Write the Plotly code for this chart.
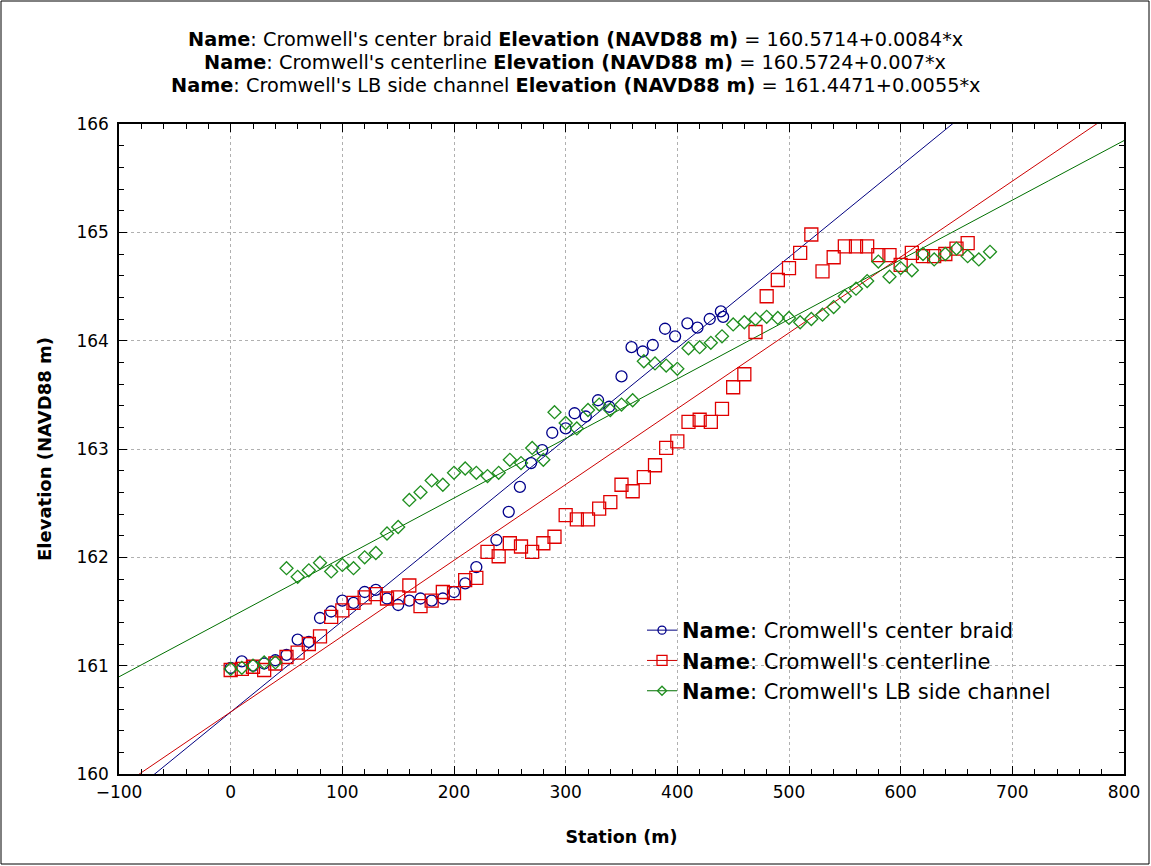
import plotly.graph_objects as go
import numpy as np

# ---------------- data ----------------
names = ["Cromwell's center braid", "Cromwell's centerline", "Cromwell's LB side channel"]
intercepts = [160.5714, 160.5724, 161.4471]
slopes = [0.0084, 0.007, 0.0055]
coef_labels = ["160.5714+0.0084*x", "160.5724+0.007*x", "161.4471+0.0055*x"]

braid_x = [0, 10, 20, 30, 40, 50, 60, 70, 80, 90, 100, 110, 120, 130, 140, 150, 160, 170, 180, 190,
           200, 210, 220, 238, 249, 259, 269, 279, 288, 300, 308, 318, 329, 339, 350, 359, 369, 378,
           389, 398, 409, 418, 429, 439, 441]
braid_y = [160.98, 161.04, 161.0, 161.02, 161.05, 161.1, 161.24, 161.22, 161.44, 161.5, 161.6, 161.58,
           161.68, 161.7, 161.62, 161.56, 161.6, 161.62, 161.6, 161.62, 161.68, 161.76, 161.91, 162.16,
           162.42, 162.65, 162.87, 162.99, 163.15, 163.19, 163.33, 163.3, 163.45, 163.39, 163.67, 163.94,
           163.9, 163.96, 164.11, 164.04, 164.16, 164.12, 164.2, 164.27, 164.22]

center_x = list(range(0, 670, 10))
center_y = [160.96, 160.97, 160.99, 160.96, 161.02, 161.08, 161.12, 161.2, 161.27, 161.45, 161.51, 161.58,
            161.63, 161.66, 161.62, 161.63, 161.74, 161.55, 161.6, 161.68, 161.67, 161.79, 161.81, 162.05,
            162.01, 162.13, 162.1, 162.05, 162.13, 162.19, 162.39, 162.35, 162.35, 162.45, 162.51, 162.67,
            162.61, 162.74, 162.85, 163.01, 163.07, 163.25, 163.27, 163.25, 163.37, 163.57, 163.69, 164.08,
            164.41, 164.56, 164.67, 164.81, 164.98, 164.64, 164.77, 164.87, 164.87, 164.87, 164.79, 164.79,
            164.7, 164.81, 164.78, 164.78, 164.8, 164.85, 164.9]

lb_x = list(range(0, 690, 10))
lb_y = [160.97, 160.98, 161.0, 161.03, 161.03, 161.9, 161.82, 161.88, 161.95, 161.87, 161.93, 161.9,
        162.0, 162.04, 162.22, 162.28, 162.53, 162.6, 162.71, 162.67, 162.78, 162.82, 162.78, 162.75,
        162.78, 162.9, 162.87, 163.01, 162.9, 163.34, 163.24, 163.19, 163.36, 163.41, 163.36, 163.41,
        163.45, 163.81, 163.79, 163.77, 163.74, 163.93, 163.94, 163.98, 164.04, 164.15, 164.17, 164.2,
        164.22, 164.21, 164.21, 164.17, 164.2, 164.24, 164.31, 164.41, 164.48, 164.55, 164.73, 164.59,
        164.67, 164.65, 164.8, 164.75, 164.8, 164.85, 164.78, 164.75, 164.82]

x_range = [-100, 800]
y_range = [160, 166]

# ---------------- styles ----------------
marker_colors = ["#00008b", "#e00000", "#1f8f1f"]
line_colors = ["#000080", "#cc0000", "#007000"]
symbols = ["circle-open", "square-open", "diamond-open"]
sizes = [11, 13, 10]

series_x = [braid_x, center_x, lb_x]
series_y = [braid_y, center_y, lb_y]

fig = go.Figure()
FONT = "DejaVu Sans, Verdana, sans-serif"

for i in range(3):
    lx = np.linspace(x_range[0], x_range[1], 400)
    ly = intercepts[i] + slopes[i] * lx
    fig.add_trace(go.Scatter(x=lx, y=ly, mode="lines", line=dict(color=line_colors[i], width=1),
                             showlegend=False, hoverinfo="skip"))
for i in range(3):
    fig.add_trace(go.Scatter(x=series_x[i], y=series_y[i], mode="markers",
                             marker=dict(symbol=symbols[i], size=sizes[i], color=marker_colors[i],
                                         line=dict(width=1.3, color=marker_colors[i])),
                             showlegend=False, name=names[i]))
for i in range(3):
    fig.add_trace(go.Scatter(x=[None], y=[None], mode="lines+markers",
                             line=dict(color=line_colors[i], width=1),
                             marker=dict(symbol=symbols[i], size=sizes[i] - 3, color=marker_colors[i],
                                         line=dict(width=1.3, color=marker_colors[i])),
                             name="<b>Name</b>: " + names[i]))

title_lines = ["<b>Name</b>: %s <b>Elevation (NAVD88 m)</b> = %s" % (names[i], coef_labels[i]) for i in range(3)]

W, H = 1151, 866
L, R, T, B = 119, 27, 124, 92
pw, ph = W - L - R, H - T - B

def px_x(p):
    return (p - L) / pw

def px_y(p):
    return (T + ph - p) / ph

title_y_px = [40, 63, 86]
annotations = [dict(text=title_lines[i], xref="paper", yref="paper", x=px_x(575), y=px_y(title_y_px[i]),
                    xanchor="center", yanchor="middle", showarrow=False,
                    font=dict(family=FONT, size=19.3, color="black")) for i in range(3)]

fig.update_layout(
    width=W, height=H,
    margin=dict(l=L, r=R, t=T, b=B, pad=0),
    paper_bgcolor="white", plot_bgcolor="white",
    font=dict(family=FONT, color="black", size=17),
    annotations=annotations,
    legend=dict(x=px_x(642), y=px_y(610), xanchor="left", yanchor="top",
                bgcolor="rgba(255,255,255,0)", font=dict(family=FONT, size=21, color="black"),
                tracegroupgap=0, itemwidth=30),
    xaxis=dict(range=x_range, dtick=100, tick0=0, showline=True, linecolor="black", linewidth=1.5,
               mirror="ticks", ticks="inside", ticklen=8, tickcolor="black", tickwidth=1.2,
               showgrid=True, gridcolor="#b0b0b0", griddash="dot", gridwidth=1, zeroline=False,
               minor=dict(dtick=20, ticks="inside", ticklen=5, tickcolor="black", showgrid=False),
               tickfont=dict(family=FONT, size=17), ticklabelstandoff=2,
               title=dict(text="<b>Station (m)</b>", font=dict(family=FONT, size=17.5), standoff=30)),
    yaxis=dict(range=y_range, dtick=1, showline=True, linecolor="black", linewidth=1.5,
               mirror="ticks", ticks="inside", ticklen=8, tickcolor="black", tickwidth=1.2,
               showgrid=True, gridcolor="#b0b0b0", griddash="dot", gridwidth=1, zeroline=False,
               minor=dict(dtick=0.2, ticks="inside", ticklen=5, tickcolor="black", showgrid=False),
               tickfont=dict(family=FONT, size=17), ticklabelstandoff=5,
               title=dict(text="<b>Elevation (NAVD88 m)</b>", font=dict(family=FONT, size=18), standoff=20)),
    shapes=[dict(type="rect", xref="paper", yref="paper",
                 x0=px_x(1), x1=px_x(W - 2), y0=px_y(H - 2), y1=px_y(1),
                 line=dict(color="black", width=1), layer="below")],
)

fig.write_html("out.html")
